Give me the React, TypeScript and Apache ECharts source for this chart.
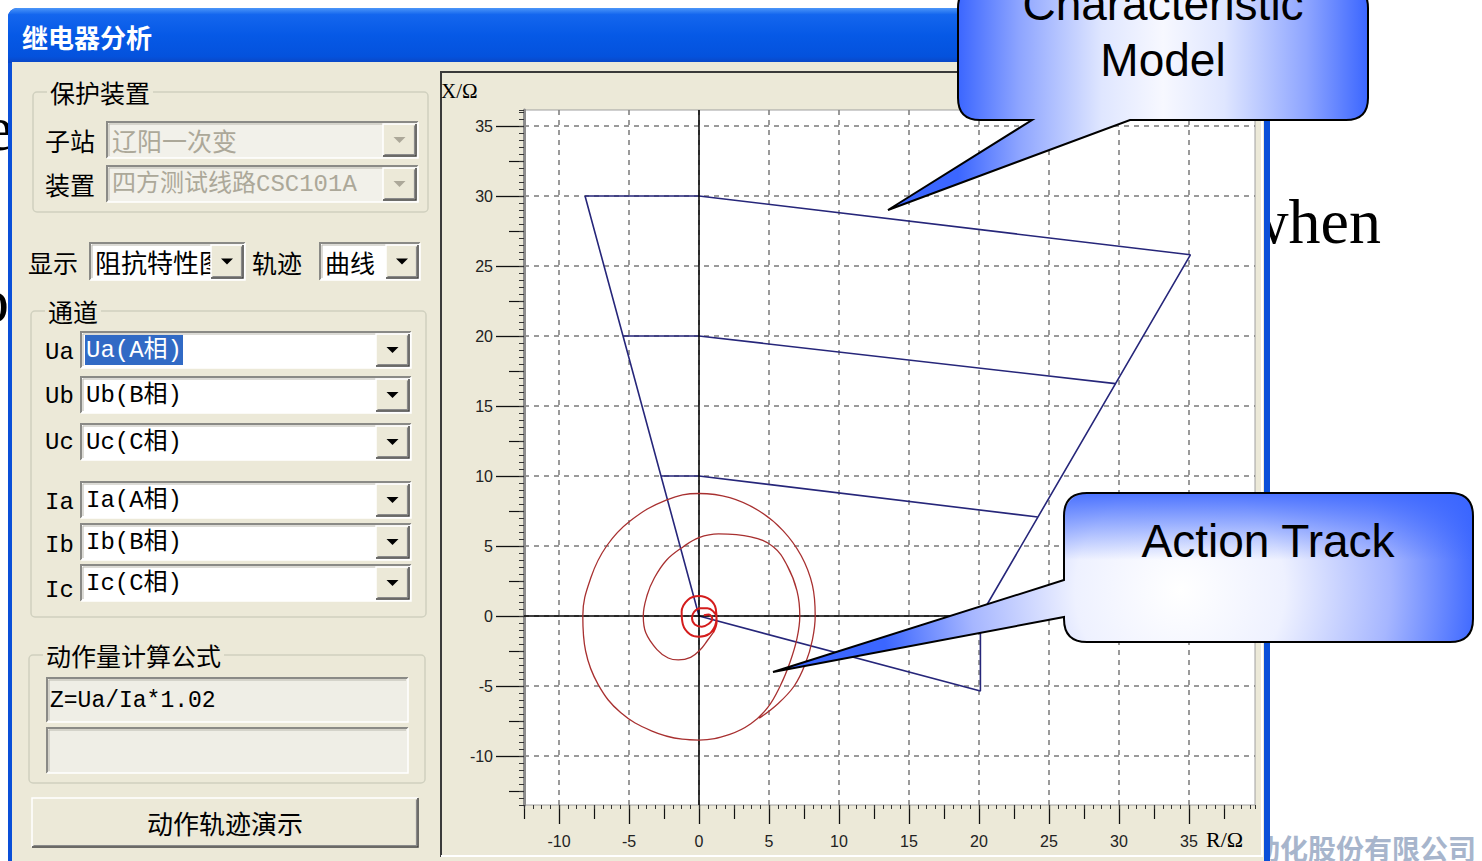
import React, { useEffect, useRef } from "react";
import * as echarts from "echarts";

// ---------------- data ----------------
const xTickLabels = [-10, -5, 0, 5, 10, 15, 20, 25, 30, 35];
const xHalfTicks = [-12.5, -7.5, -2.5, 2.5, 7.5, 12.5, 17.5, 22.5, 27.5, 32.5, 37.5];
const yTickLabels = [-10, -5, 0, 5, 10, 15, 20, 25, 30, 35];
const yHalfTicks = [-12.5, -7.5, -2.5, 2.5, 7.5, 12.5, 17.5, 22.5, 27.5, 32.5];

// characteristic (R, X) in ohm
const zone3 = [[-8.14, 30], [0, 30], [35.1, 25.8], [20.1, 0], [20.1, -5.36], [0, 0], [-8.14, 30]];
const zone2 = [[-5.43, 20], [0, 20], [29.75, 16.6]];
const zone1 = [[-2.71, 10], [0, 10], [24.2, 7.07]];

// action track (R, X)
const trackSpiral = [
  [4.3, -7.3], [5.6, -6.3], [6.8, -5.0], [7.6, -3.4], [8.1, -1.7], [8.3, 0],
  [8.1, 2.2], [7.3, 4.3], [6.0, 6.1], [4.3, 7.5], [2.2, 8.45], [0, 8.75],
  [-2.3, 8.3], [-4.9, 6.8], [-6.6, 5.0], [-7.7, 2.8], [-8.3, 0],
  [-8.1, -2.5], [-7.2, -4.9], [-5.6, -6.9], [-3.4, -8.2], [-1.2, -8.8], [0, -8.86],
  [2.2, -8.45], [3.7, -7.7], [4.9, -6.55], [5.8, -5.0], [6.5, -3.3], [7.0, -1.6], [7.2, 0],
  [7.0, 1.8], [6.3, 3.6], [5.3, 4.95], [3.7, 5.65], [1.4, 5.86], [0, 5.6],
  [-1.12, 4.95], [-2.31, 4.0], [-3.2, 2.7], [-3.7, 1.5], [-3.98, 0],
  [-3.8, -1.2], [-3.0, -2.4], [-2.2, -3.0], [-1.48, -3.14], [-0.6, -2.95], [0.07, -2.43],
  [0.6, -1.75], [1.0, -1.2],
];
const trackCore = [
  [1.0, -1.2], [1.26, -0.4], [1.2, 0.5], [0.8, 1.15], [0, 1.43], [-0.8, 1.15], [-1.24, 0.3],
  [-1.15, -0.6], [-0.65, -1.3], [0, -1.48], [0.7, -1.3], [1.15, -0.7], [1.25, -0.1],
  [1.0, 0.35], [0.6, 0.55], [0.1, 0.55], [-0.35, 0.3], [-0.5, -0.15], [-0.3, -0.6],
  [0.2, -0.76], [0.7, -0.55], [0.95, -0.2], [0.7, 0.1], [0.35, 0.05],
];

// ---------------- layout / style ----------------
const X_MIN = -12.5;
const X_MAX = -12.5 + 731 / 14;
const Y_MIN = -13.5;
const Y_MAX = -13.5 + 695 / 14;

const BEIGE = "#ECE9D8";
const CJK = "'Noto Sans CJK SC', 'Noto Sans', sans-serif";
const MONO = "'Liberation Mono', 'Noto Sans CJK SC', monospace";
const SERIF = "'Liberation Serif', 'DejaVu Serif', serif";
const SANS = "'Liberation Sans', Arial, sans-serif";
const NAVY = "#26267a";

const Z_SLIDE = -30;
const Z_WIN = -20;
const Z_UI = -10;
const Z_CALL = 50;

const CALLOUT_MODEL_D =
  "M 980 -14 L 1346 -14 Q 1368 -14 1368 8 L 1368 98 Q 1368 120 1346 120 L 1130 120 L 888 210 L 1032 120 L 980 120 Q 958 120 958 98 L 958 8 Q 958 -14 980 -14 Z";
const CALLOUT_TRACK_D =
  "M 1087 493 L 1450 493 Q 1473 493 1473 516 L 1473 619 Q 1473 642 1450 642 L 1087 642 Q 1064 642 1064 619 L 1064 617 L 773 672 L 1064 580 L 1064 516 Q 1064 493 1087 493 Z";

let shapesRegistered = false;
function registerShapes() {
  if (shapesRegistered) return;
  shapesRegistered = true;
  echarts.graphic.registerShape("calloutModel", echarts.graphic.extendPath(CALLOUT_MODEL_D, {}));
  echarts.graphic.registerShape("calloutTrack", echarts.graphic.extendPath(CALLOUT_TRACK_D, {}));
}

function rect(x: number, y: number, w: number, h: number, fill: any, o: any = {}) {
  return {
    type: "rect",
    silent: true,
    z: o.z ?? Z_UI,
    shape: { x, y, width: w, height: h, r: o.r ?? 0 },
    style: { fill, stroke: o.stroke ?? null, lineWidth: o.lw ?? 0 },
  };
}
function pline(points: number[][], stroke: string, lw: number, z = Z_UI) {
  return { type: "polyline", silent: true, z, shape: { points }, style: { stroke, lineWidth: lw, fill: null } };
}
function text(x: number, y: number, t: string, size: number, o: any = {}) {
  const style: any = {
    text: t,
    fontSize: size,
    fontFamily: o.font ?? CJK,
    fontWeight: o.weight ?? "normal",
    fill: o.fill ?? "#000",
    align: o.align ?? "left",
    verticalAlign: o.va ?? "middle",
  };
  if (o.bg) {
    style.backgroundColor = o.bg;
    style.padding = o.pad ?? [0, 3, 0, 3];
  }
  return { type: "text", silent: true, z: o.z ?? Z_UI, x, y, style };
}
function sunken(x: number, y: number, w: number, h: number, fill: string) {
  return [
    rect(x, y, w, h, fill),
    pline([[x, y + h], [x, y], [x + w, y]], "#8a8a86", 2),
    pline([[x + 2, y + h - 2], [x + 2, y + 2], [x + w - 2, y + 2]], "#b9b7ad", 1),
    pline([[x, y + h], [x + w, y + h], [x + w, y]], "#ffffff", 1.5),
  ];
}
function raised(x: number, y: number, w: number, h: number, fill = BEIGE) {
  return [
    rect(x, y, w, h, fill),
    pline([[x, y + h], [x, y], [x + w, y]], "#ffffff", 1.5),
    pline([[x, y + h], [x + w, y + h], [x + w, y]], "#404040", 1.5),
    pline([[x + 1.5, y + h - 1.5], [x + w - 1.5, y + h - 1.5], [x + w - 1.5, y + 1.5]], "#8a8a8a", 1.2),
  ];
}
function combo(x: number, y: number, w: number, h: number, t: string, o: any = {}) {
  const btnW = o.btnW ?? 33;
  const els: any[] = [...sunken(x, y, w, h, o.disabled ? "#F2F1EA" : "#ffffff")];
  if (o.highlight) els.push(rect(x + 4, y + 3, o.highlight, h - 6, "#316AC5"));
  els.push(
    text(x + 5, y + h / 2, t, o.size ?? 24, {
      font: o.font ?? CJK,
      fill: o.disabled ? "#ACA899" : o.highlight ? "#ffffff" : "#000",
    })
  );
  els.push(...raised(x + w - btnW - 2, y + 2, btnW, h - 4));
  const cx = x + w - 2 - btnW / 2;
  const cy = y + h / 2;
  els.push({
    type: "polygon",
    silent: true,
    z: Z_UI,
    shape: { points: [[cx - 6, cy - 3], [cx + 6, cy - 3], [cx, cy + 3]] },
    style: { fill: o.disabled ? "#ACA899" : "#000" },
  });
  return els;
}
function groupBox(x: number, y: number, w: number, h: number, label: string) {
  return [
    rect(x, y, w, h, null, { stroke: "#D0D0BF", lw: 1.5, r: 4 }),
    text(x + 14, y, label, 25, { bg: BEIGE }),
  ];
}

function buildGraphics() {
  const els: any[] = [];
  // slide texts behind the dialog
  els.push(text(1381, 221, "when", 64, { font: SERIF, align: "right", z: Z_SLIDE }));
  els.push(text(13, 128, "e", 64, { font: SERIF, align: "right", z: Z_SLIDE }));
  els.push(text(9, 300, "o", 64, { font: SERIF, align: "right", z: Z_SLIDE }));
  els.push(
    text(1476, 848, "动化股份有限公司", 28, { align: "right", fill: "#A7B5CC", weight: "bold", z: Z_SLIDE })
  );

  // window
  els.push(rect(8, 8, 1262, 880, "#0A4FD8", { z: Z_WIN, r: [9, 9, 0, 0] }));
  els.push(
    rect(
      8,
      8,
      1262,
      55,
      {
        type: "linear",
        x: 0,
        y: 0,
        x2: 0,
        y2: 1,
        colorStops: [
          { offset: 0, color: "#4B96F8" },
          { offset: 0.12, color: "#1466EE" },
          { offset: 0.5, color: "#0659E6" },
          { offset: 0.88, color: "#0452DD" },
          { offset: 1, color: "#0B46C4" },
        ],
      },
      { z: Z_WIN, r: [9, 9, 0, 0] }
    )
  );
  els.push(rect(12, 62, 1252, 820, BEIGE, { z: Z_WIN }));
  els.push(text(22, 36, "继电器分析", 26, { fill: "#ffffff", weight: "bold" }));

  // group: 保护装置
  els.push(...groupBox(33, 92, 395, 120, "保护装置"));
  els.push(text(45, 140, "子站", 25));
  els.push(...combo(107, 122, 311, 36, "辽阳一次变", { disabled: true, size: 25 }));
  els.push(text(45, 184, "装置", 25));
  els.push(...combo(107, 166, 311, 36, "四方测试线路CSC101A", { disabled: true, size: 24, font: MONO }));

  // 显示 / 轨迹
  els.push(text(28, 262, "显示", 25));
  els.push(...combo(90, 243, 155, 37, "阻抗特性图", { size: 26, btnW: 32 }));
  els.push(text(252, 262, "轨迹", 25));
  els.push(...combo(320, 243, 100, 37, "曲线", { size: 25, btnW: 32 }));

  // group: 通道
  els.push(...groupBox(31, 311, 395, 306, "通道"));
  const rows: [string, string, number, number][] = [
    ["Ua", "Ua(A相)", 332, 352],
    ["Ub", "Ub(B相)", 377, 396],
    ["Uc", "Uc(C相)", 424, 442],
    ["Ia", "Ia(A相)", 482, 502],
    ["Ib", "Ib(B相)", 524, 545],
    ["Ic", "Ic(C相)", 565, 590],
  ];
  rows.forEach(([lab, val, y, ly], i) => {
    els.push(text(45, ly, lab, 24, { font: MONO }));
    els.push(...combo(81, y, 330, 36, val, { font: MONO, size: 24, highlight: i === 0 ? 98 : 0 }));
  });

  // group: 动作量计算公式
  els.push(...groupBox(29, 655, 396, 128, "动作量计算公式"));
  els.push(...sunken(47, 678, 361, 44, "#EFEEE6"));
  els.push(text(50, 701, "Z=Ua/Ia*1.02", 23, { font: MONO }));
  els.push(...sunken(47, 728, 361, 45, "#EFEEE6"));

  // button
  els.push(...raised(32, 798, 386, 49));
  els.push(text(225, 822, "动作轨迹演示", 26, { align: "center" }));

  // chart frame
  els.push(rect(440, 71, 823, 786, BEIGE));
  els.push(pline([[441, 857], [441, 72], [1263, 72]], "#3a3a3a", 2));
  els.push(pline([[441, 856], [1262, 856], [1262, 72]], "#ffffff", 2));
  els.push(text(441, 91, "X/Ω", 21, { font: SERIF }));
  els.push(text(1206, 839, "R/Ω", 22, { font: SERIF }));

  // callout: Characteristic Model
  els.push({
    type: "calloutModel",
    silent: true,
    z: Z_CALL,
    x: 0,
    y: 0,
    style: {
      fill: {
        type: "linear",
        x: 958,
        y: 0,
        x2: 1368,
        y2: 0,
        global: true,
        colorStops: [
          { offset: 0, color: "#3b66ff" },
          { offset: 0.15, color: "#8ea5ff" },
          { offset: 0.35, color: "#dfe6ff" },
          { offset: 0.5, color: "#f7f8ff" },
          { offset: 0.65, color: "#dfe6ff" },
          { offset: 0.85, color: "#8ea5ff" },
          { offset: 1, color: "#3b66ff" },
        ],
      },
      stroke: "#000",
      lineWidth: 2,
    },
  });
  els.push(text(1163, 4, "Characteristic", 46, { font: SANS, align: "center", z: Z_CALL }));
  els.push(text(1163, 60, "Model", 46, { font: SANS, align: "center", z: Z_CALL }));

  // callout: Action Track
  els.push({
    type: "calloutTrack",
    silent: true,
    z: Z_CALL,
    x: 0,
    y: 0,
    style: {
      fill: {
        type: "radial",
        x: 1180,
        y: 590,
        r: 300,
        global: true,
        colorStops: [
          { offset: 0, color: "#ffffff" },
          { offset: 0.35, color: "#eef1ff" },
          { offset: 0.7, color: "#a6b6ff" },
          { offset: 1, color: "#3b66ff" },
        ],
      },
      stroke: null,
    },
  });
  els.push(
    rect(
      1064,
      493,
      409,
      149,
      {
        type: "linear",
        x: 0,
        y: 0,
        x2: 0,
        y2: 1,
        colorStops: [
          { offset: 0, color: "rgba(59,102,255,0.9)" },
          { offset: 0.45, color: "rgba(59,102,255,0)" },
          { offset: 1, color: "rgba(59,102,255,0)" },
        ],
      },
      { z: Z_CALL, r: 23 }
    )
  );
  els.push({
    type: "calloutTrack",
    silent: true,
    z: Z_CALL,
    x: 0,
    y: 0,
    style: { fill: "none", stroke: "#000", lineWidth: 2 },
  });
  els.push(text(1268, 541, "Action Track", 46, { font: SANS, align: "center", z: Z_CALL }));
  return els;
}

function buildOption() {
  const tickLabel = { fontSize: 16, color: "#222", fontFamily: SANS };
  const dashed = { color: "#7a7a7a", width: 1.5, type: [5, 5] };
  const xBase = { type: "value", gridIndex: 0, position: "bottom", min: X_MIN, max: X_MAX };
  const yBase = { type: "value", gridIndex: 0, position: "left", min: Y_MIN, max: Y_MAX };
  const lineSeries = (name: string, data: number[][], color: string, width: number, z: number, smooth: any = false) => ({
    type: "line",
    name,
    data,
    xAxisIndex: 0,
    yAxisIndex: 0,
    symbol: "none",
    smooth,
    z,
    lineStyle: { color, width },
    silent: true,
  });
  return {
    animation: false,
    backgroundColor: "#ffffff",
    grid: {
      left: 524,
      top: 110,
      width: 731,
      height: 695,
      show: true,
      backgroundColor: "#ffffff",
      borderColor: "#a0a0a0",
      borderWidth: 1,
      containLabel: false,
      outerBoundsMode: "none",
    },
    xAxis: [
      {
        ...xBase,
        interval: 2.5,
        axisLine: { show: false, onZero: false },
        axisTick: { show: true, customValues: xTickLabels, length: 19, lineStyle: { color: "#111", width: 1.3 } },
        axisLabel: { show: true, customValues: xTickLabels, margin: 28, ...tickLabel },
        splitLine: { show: true, lineStyle: dashed },
      },
      {
        ...xBase,
        interval: 2.5,
        axisLine: { show: false, onZero: false },
        axisTick: { show: true, customValues: xHalfTicks, length: 14, lineStyle: { color: "#111", width: 1.2 } },
        axisLabel: { show: false },
        splitLine: { show: false },
      },
      {
        ...xBase,
        interval: 0.625,
        axisLine: { show: false, onZero: false },
        axisTick: { show: true, length: 4, lineStyle: { color: "#333", width: 1 } },
        axisLabel: { show: false },
        splitLine: { show: false },
      },
    ],
    yAxis: [
      {
        ...yBase,
        interval: 0.5,
        axisLine: { show: true, onZero: false, lineStyle: { color: "#8c8c8c", width: 3 } },
        axisTick: { show: true, customValues: yTickLabels, length: 28, lineStyle: { color: "#111", width: 1.3 } },
        axisLabel: { show: true, customValues: yTickLabels, margin: 31, ...tickLabel },
        splitLine: { show: true, lineStyle: dashed },
      },
      {
        ...yBase,
        interval: 0.5,
        axisLine: { show: false, onZero: false },
        axisTick: { show: true, customValues: yHalfTicks, length: 15, lineStyle: { color: "#111", width: 1.2 } },
        axisLabel: { show: false },
        splitLine: { show: false },
      },
      {
        ...yBase,
        interval: 0.5,
        axisLine: { show: false, onZero: false },
        axisTick: { show: true, length: 5, lineStyle: { color: "#333", width: 1 } },
        axisLabel: { show: false },
        splitLine: { show: false },
      },
    ],
    series: [
      {
        type: "line",
        name: "axes",
        data: [],
        xAxisIndex: 0,
        yAxisIndex: 0,
        z: 3,
        silent: true,
        markLine: {
          silent: true,
          symbol: ["none", "none"],
          label: { show: false },
          lineStyle: { color: "#000", width: 1.5, type: "solid" },
          data: [{ xAxis: 0 }, { yAxis: 0 }],
        },
      },
      lineSeries("Zone III", zone3, NAVY, 1.6, 4),
      lineSeries("Zone II", zone2, NAVY, 1.6, 4),
      lineSeries("Zone I", zone1, NAVY, 1.6, 4),
      lineSeries("Track", trackSpiral, "#a83030", 1.3, 5, 0.4),
      lineSeries("Track core", trackCore, "#d41c1c", 2, 6, 0.4),
    ],
    graphic: { elements: buildGraphics() },
  };
}

export default function App() {
  const ref = useRef<HTMLDivElement>(null);
  useEffect(() => {
    document.body.style.margin = "0";
    registerShapes();
    const chart = echarts.init(ref.current as HTMLDivElement, null, { renderer: "svg" });
    chart.setOption(buildOption() as any);
    return () => chart.dispose();
  }, []);
  return (
    <div
      ref={ref}
      style={{ position: "fixed", left: 0, top: 0, width: 1482, height: 861, background: "#fff" }}
    />
  );
}
